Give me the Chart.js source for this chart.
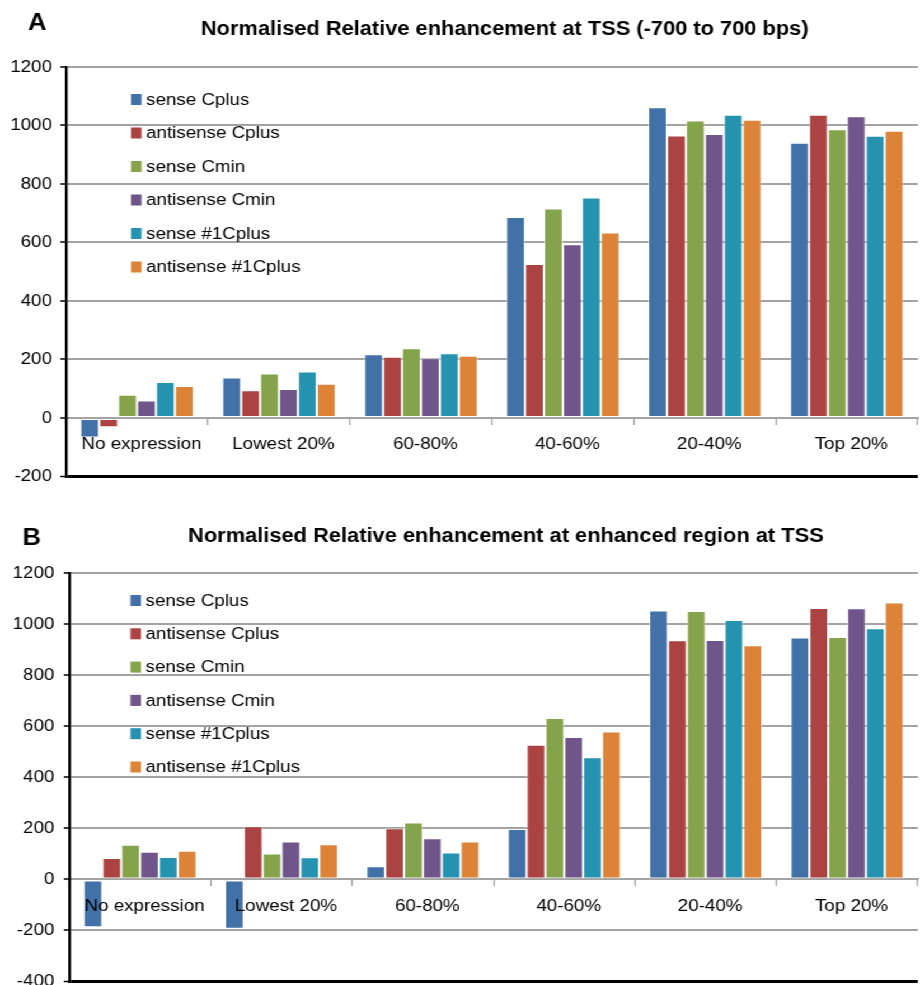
<!DOCTYPE html>
<html>
<head>
<meta charset="utf-8">
<script src="https://cdn.jsdelivr.net/npm/chart.js@4.4.1/dist/chart.umd.min.js"></script>
<style>
  html, body { margin: 0; padding: 0; background: #ffffff; overflow: hidden; }
  #page { position: relative; width: 920px; height: 985px; overflow: hidden; }
  /* the figure is set in a slightly wide face: the drawing is widened as a whole */
  #stretch { position: absolute; left: 0; top: 0; width: 822px; height: 1000px;
             transform: scaleX(1.11922); transform-origin: 0 0; }
  canvas { position: absolute; left: 0; }
  #chartA { top: 0; }
  #chartB { top: 490px; }
</style>
</head>
<body>
<div id="page"><div id="stretch">
  <canvas id="chartA" width="822" height="494"></canvas>
  <canvas id="chartB" width="822" height="510"></canvas>
</div></div>
<script>
// Expression classes along the x axis
const categories = ['No expression', 'Lowest 20%', '60-80%', '40-60%', '20-40%', 'Top 20%'];
const seriesNames = ['sense Cplus', 'antisense Cplus', 'sense Cmin', 'antisense Cmin', 'sense #1Cplus', 'antisense #1Cplus'];
const seriesColors = ['#4271a8', '#aa4341', '#85a34b', '#6f558a', '#2593b0', '#dc8338'];

// Panel A: enhancement at TSS (-700 to 700 bps)
const senseCplusA      = [-67, 138, 218, 687, 1062, 941];
const antisenseCplusA  = [-32, 95, 209, 526, 966, 1037];
const senseCminA       = [79, 152, 238, 716, 1017, 987];
const antisenseCminA   = [60, 99, 204, 594, 971, 1032];
const sense1CplusA     = [123, 159, 221, 754, 1037, 965];
const antisense1CplusA = [109, 117, 213, 634, 1020, 982];

// Panel B: enhancement at enhanced region at TSS
const senseCplusB      = [-187, -193, 51, 197, 1053, 947];
const antisenseCplusB  = [84, 208, 200, 527, 937, 1063];
const senseCminB       = [136, 101, 223, 632, 1051, 949];
const antisenseCminB   = [108, 148, 161, 558, 938, 1062];
const sense1CplusB     = [88, 87, 105, 478, 1016, 984];
const antisense1CplusB = [112, 138, 148, 579, 917, 1084];

// Axis ranges and tick step
const yMinA = -200, yMaxA = 1200;
const yMinB = -400, yMaxB = 1200;
const yStep = 200;

const FONT = '"Liberation Sans", Arial, Helvetica, sans-serif';
const GRID = '#a3a3a3';
const TEXT_SIZE = 16.8;

// Draws the panel letter, the title and the in-plot legend
const panelDecor = {
  id: 'panelDecor',
  afterDraw(chart, args, opts) {
    const ctx = chart.ctx;
    const area = chart.chartArea;
    ctx.save();
    ctx.fillStyle = '#000';
    ctx.textBaseline = 'alphabetic';
    ctx.font = 'bold 23px ' + FONT;
    ctx.textAlign = 'left';
    ctx.fillText(opts.letter, opts.letterX, opts.letterY);
    ctx.font = 'bold 19.5px ' + FONT;
    ctx.textAlign = 'center';
    ctx.fillText(opts.title, opts.titleX, opts.titleY);

    ctx.font = TEXT_SIZE + 'px ' + FONT;
    ctx.textAlign = 'left';
    ctx.textBaseline = 'middle';
    chart.data.datasets.forEach((ds, i) => {
      const cy = area.top + opts.legendTop + i * opts.legendGap;
      const x = area.left + opts.legendLeft;
      ctx.fillStyle = ds.backgroundColor;
      ctx.fillRect(x, cy - 5, 9.5, 11);
      ctx.fillStyle = '#000';
      ctx.fillText(ds.label, x + 13.5, cy + 1);
    });
    ctx.restore();
  }
};

function makeChart(id, series, yMin, yMax, pad, axisWidth, labelGap, decor) {
  const datasets = series.map((vals, i) => ({
    label: seriesNames[i],
    data: vals,
    backgroundColor: seriesColors[i],
    borderColor: 'rgba(255,255,255,0.55)',
    borderWidth: 1,
    borderSkipped: false,
    categoryPercentage: 0.8,
    barPercentage: 1.0
  }));
  return new Chart(document.getElementById(id), {
    type: 'bar',
    data: { labels: categories, datasets },
    plugins: [panelDecor],
    options: {
      responsive: false,
      animation: false,
      devicePixelRatio: 1,
      layout: { padding: pad },
      plugins: {
        legend: { display: false },
        tooltip: { enabled: false },
        title: { display: false },
        panelDecor: decor
      },
      scales: {
        x: {
          position: { y: 0 },
          offset: true,
          afterFit(scale) { scale.height = 0; },
          grid: {
            offset: true,
            drawOnChartArea: false,
            drawTicks: true,
            tickLength: 6,
            tickColor: GRID,
            tickWidth: 1.3
          },
          border: { display: true, color: GRID, width: 2 },
          ticks: {
            z: 1,
            color: '#000',
            padding: 10.5,
            labelOffset: 4,
            maxRotation: 0,
            autoSkip: false,
            font: { family: FONT, size: TEXT_SIZE }
          }
        },
        y: {
          min: yMin,
          max: yMax,
          afterFit(scale) { scale.width = axisWidth; },
          grid: {
            color: (c) => (c.tick && c.tick.value === yMin) ? '#000' : GRID,
            lineWidth: (c) => (c.tick && c.tick.value === yMin) ? 3 : 2,
            tickLength: 5,
            tickColor: '#000',
            tickWidth: 1.5
          },
          border: { display: true, color: '#000', width: 2.4 },
          ticks: {
            stepSize: yStep,
            color: '#000',
            padding: labelGap,
            callback: (v) => String(v),
            font: { family: FONT, size: TEXT_SIZE }
          }
        }
      }
    }
  });
}

makeChart('chartA',
  [senseCplusA, antisenseCplusA, senseCminA, antisenseCminA, sense1CplusA, antisense1CplusA],
  yMinA, yMaxA,
  { left: 0, top: 67, right: 2, bottom: 15 }, 59, 7.5,
  { letter: 'A', letterX: 25, letterY: 30,
    title: 'Normalised Relative enhancement at TSS (-700 to 700 bps)', titleX: 451, titleY: 35,
    legendLeft: 58, legendTop: 32, legendGap: 33.5 });

makeChart('chartB',
  [senseCplusB, antisenseCplusB, senseCminB, antisenseCminB, sense1CplusB, antisense1CplusB],
  yMinB, yMaxB,
  { left: 0, top: 83, right: 2, bottom: 6 }, 62, 8.4,
  { letter: 'B', letterX: 20, letterY: 55,
    title: 'Normalised Relative enhancement at enhanced region at TSS', titleX: 452, titleY: 52,
    legendLeft: 54.5, legendTop: 27, legendGap: 33.3 });
</script>
</body>
</html>
